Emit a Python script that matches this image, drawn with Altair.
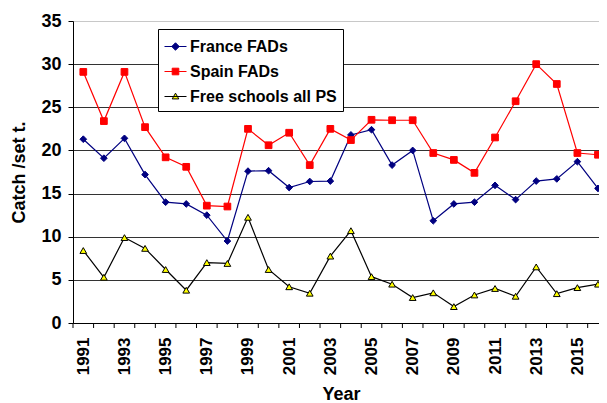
import altair as alt
import pandas as pd

years = list(range(1991, 2017))
france = [21.3, 19.1, 21.4, 17.2, 14.0, 13.8, 12.5, 9.5, 17.6, 17.65, 15.7, 16.4, 16.45,
          21.8, 22.4, 18.3, 20.0, 11.85, 13.8, 14.0, 15.95, 14.3, 16.45, 16.7, 18.7, 15.6]
spain = [29.1, 23.4, 29.1, 22.7, 19.2, 18.1, 13.6, 13.5, 22.5, 20.6, 22.05, 18.3, 22.5,
         21.2, 23.55, 23.5, 23.5, 19.7, 18.9, 17.4, 21.5, 25.7, 30.0, 27.7, 19.7, 19.5]
free = [8.4, 5.3, 9.9, 8.65, 6.2, 3.8, 7.0, 6.9, 12.25, 6.2, 4.2, 3.45, 7.75,
        10.7, 5.37, 4.5, 2.95, 3.5, 1.9, 3.25, 4.0, 3.1, 6.5, 3.4, 4.1, 4.5]
series_names = ["France FADs", "Spain FADs", "Free schools all PS"]
line_colors = ["#000080", "#FF0000", "#000000"]
fill_colors = ["#000080", "#FF0000", "#FFFF00"]
shapes = ["diamond", "square", "triangle-up"]
label_years = list(range(1991, 2016, 2))

rows = []
for name, vals in zip(series_names, [france, spain, free]):
    for yr, v in zip(years, vals):
        rows.append({"Year": yr, "Value": v, "Series": name})
df = pd.DataFrame(rows)
bounds = pd.DataFrame({"b": [y - 0.5 for y in years]})

W, H = 526, 302
FONT = "Liberation Sans"

xscale = alt.Scale(domain=[1990.5, 2016.05], nice=False, zero=False)
yscale = alt.Scale(domain=[0, 35], nice=False)

x_enc = alt.X("Year:Q", scale=xscale,
              axis=alt.Axis(values=label_years, format="d", labelAngle=-90, ticks=False,
                            grid=False, labelFont=FONT, labelFontWeight="bold",
                            labelFontSize=17, labelColor="black", labelPadding=14,
                            domainColor="black", title="Year", titleFont=FONT,
                            titleFontSize=18, titleFontWeight="bold", titleColor="black",
                            titlePadding=11, titleX=268))
y_enc = alt.Y("Value:Q", scale=yscale,
              axis=alt.Axis(values=[0, 5, 10, 15, 20, 25, 30, 35], tickSize=5,
                            tickColor="black", domainColor="black", labelFont=FONT,
                            labelFontWeight="bold", labelFontSize=18, labelColor="black",
                            labelPadding=7, grid=True,
                            gridColor={"condition": {"test": "datum.value == 35", "value": "#c8c8c8"}, "value": "#333333"},
                            gridWidth=1, title="Catch /set t.", titleFont=FONT,
                            titleFontSize=18, titleFontWeight="bold", titleColor="black",
                            titlePadding=12))

# legend symbols: short line segment with the series marker
p_dia = "M-1,0L1,0M0,-0.34L0.34,0L0,0.34L-0.34,0Z"
p_sq = "M-1,0L1,0M-0.3,-0.3L0.3,-0.3L0.3,0.3L-0.3,0.3Z"
p_tri = "M-1,0L1,0M0,-0.3L0.3,0.22L-0.3,0.22Z"
legend_shapes = [p_dia, p_sq, p_tri]

lines = alt.Chart(df).mark_line(strokeWidth=1.2).encode(
    x=x_enc, y=y_enc,
    color=alt.Color("Series:N", scale=alt.Scale(domain=series_names, range=line_colors), legend=None),
    detail="Series:N",
)

points = alt.Chart(df).mark_point(filled=True, size=45, strokeWidth=1, opacity=1).encode(
    x="Year:Q", y="Value:Q",
    shape=alt.Shape("Series:N", scale=alt.Scale(domain=series_names, range=shapes), legend=None),
    fill=alt.Fill("Series:N", scale=alt.Scale(domain=series_names, range=fill_colors), legend=None),
    stroke=alt.Stroke("Series:N", scale=alt.Scale(domain=series_names, range=line_colors), legend=None),
)

legend = alt.Legend(title=None, orient="none", legendX=85, legendY=8,
                    fillColor="white", strokeColor="black", padding=6,
                    labelFont=FONT, labelFontWeight="bold", labelFontSize=16,
                    labelColor="black", labelLimit=300, rowPadding=5,
                    symbolSize=484, symbolStrokeWidth=1, labelOffset=3)

legend_layer = alt.Chart(df).transform_filter("datum.Value < 0").mark_point(
    filled=True, size=484, strokeWidth=1, opacity=1).encode(
    x="Year:Q", y="Value:Q",
    shape=alt.Shape("Series:N", scale=alt.Scale(domain=series_names, range=legend_shapes), legend=legend),
    fill=alt.Fill("Series:N", scale=alt.Scale(domain=series_names, range=fill_colors), legend=legend),
    stroke=alt.Stroke("Series:N", scale=alt.Scale(domain=series_names, range=line_colors), legend=legend),
)

ticks = alt.Chart(bounds).mark_rule(color="black", strokeWidth=1).encode(
    x=alt.X("b:Q", scale=xscale),
    y=alt.value(H), y2=alt.value(H + 5),
)

chart = alt.layer(ticks, lines, points, legend_layer).resolve_scale(
    color="independent", shape="independent", fill="independent", stroke="independent"
).properties(
    width=W, height=H,
    autosize=alt.AutoSizeParams(type="none"),
    padding={"left": 65, "top": 13, "right": 0, "bottom": 80},
).configure_view(stroke=None).configure(background="white")

chart.save("out.html", embed_options={"renderer": "svg", "actions": False})
